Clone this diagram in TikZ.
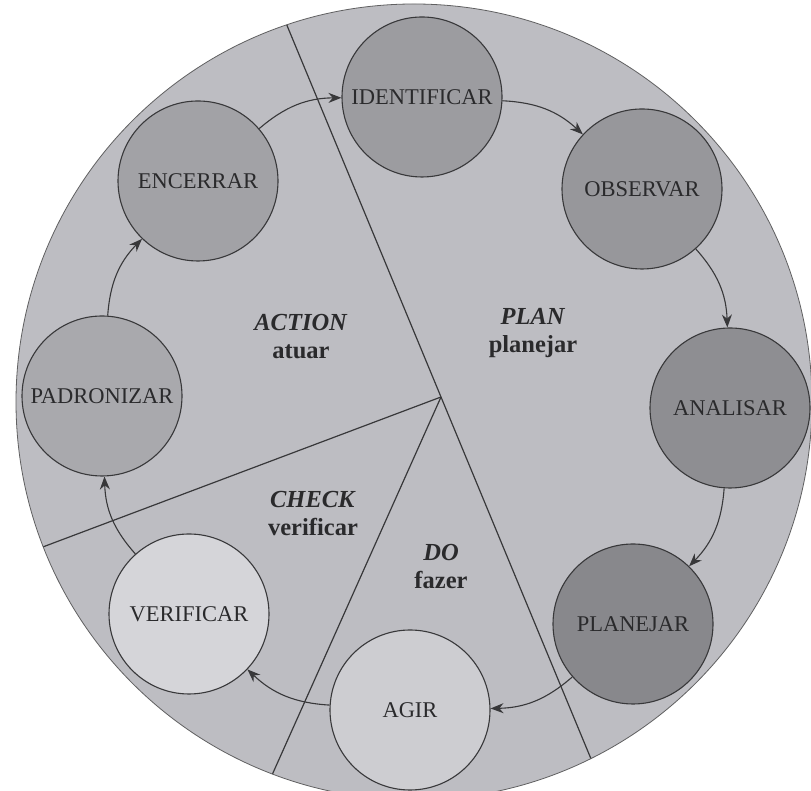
\documentclass[tikz,border=0pt]{standalone}
\usepackage{fontspec}
\setmainfont{Liberation Serif}
\usetikzlibrary{arrows.meta}
\definecolor{bgc}{HTML}{BDBDC2}
\definecolor{linec}{HTML}{38383A}
\definecolor{textc}{HTML}{2A2A2C}
\definecolor{cpa}{HTML}{A9A9AD}
\definecolor{cen}{HTML}{A2A2A6}
\definecolor{cid}{HTML}{9C9CA0}
\definecolor{cob}{HTML}{97979B}
\definecolor{can}{HTML}{8E8E92}
\definecolor{cpl}{HTML}{88888C}
\definecolor{cag}{HTML}{CDCDD1}
\definecolor{cve}{HTML}{D5D5D9}
\begin{document}
\begin{tikzpicture}[x=1pt,y=1pt,
  stage/.style={circle, minimum size=160pt, inner sep=0pt, draw=linec, line width=1.1pt,
    text=textc, font=\fontsize{22.5}{25}\selectfont},
  flow/.style={-{Stealth[length=13pt,width=10pt]}, draw=linec, line width=1.1pt, bend left=20},
  lbl/.style={text=textc, font=\fontsize{24.5}{28}\selectfont\bfseries, align=center},
  sector/.style={draw=linec, line width=1.2pt},
  rim/.style={draw=linec!80, line width=0.8pt}]
\useasboundingbox (0,0) rectangle (811,791);
\fill[white] (0,0) rectangle (811,791);
\coordinate (C) at (414,389);
\fill[bgc] (C) circle (398pt);
\begin{scope}
  \clip (C) circle (398pt);
  \coordinate (O) at (441,394);
  \coordinate (top) at (233.75,894);
  \coordinate (bot) at (648.25,-106);
  \coordinate (lft) at (-159,168);
  \coordinate (blf) at (217.5,-106);
  \draw[sector] (top) -- (O) -- (bot);
  \draw[sector] (O) -- (lft);
  \draw[sector] (O) -- (blf);
\end{scope}
\draw[rim] (C) circle (398pt);

\node[stage, fill=cid] (ID) at (422,694) {IDENTIFICAR};
\node[stage, fill=cob] (OB) at (642,602) {OBSERVAR};
\node[stage, fill=can] (AN) at (730,383) {ANALISAR};
\node[stage, fill=cpl] (PL) at (633,167) {PLANEJAR};
\node[stage, fill=cag] (AG) at (410,81) {AGIR};
\node[stage, fill=cve] (VE) at (189,177) {VERIFICAR};
\node[stage, fill=cpa] (PA) at (102,395) {PADRONIZAR};
\node[stage, fill=cen] (EN) at (198,610) {ENCERRAR};

\draw[flow] (EN) to (ID);
\draw[flow] (ID) to (OB);
\draw[flow] (OB) to (AN);
\draw[flow] (AN) to (PL);
\draw[flow] (PL) to (AG);
\draw[flow] (AG) to (VE);
\draw[flow] (VE) to (PA);
\draw[flow] (PA) to (EN);

\node[lbl] (act) at (301,454) {\textit{ACTION}\\atuar};
\node[lbl] (pln) at (533,458) {\textit{PLAN}\\planejar};
\node[lbl] (chk) at (313,277) {\textit{CHECK}\\verificar};
\node[lbl] (do) at (441,224) {\textit{DO}\\fazer};
\end{tikzpicture}
\end{document}
